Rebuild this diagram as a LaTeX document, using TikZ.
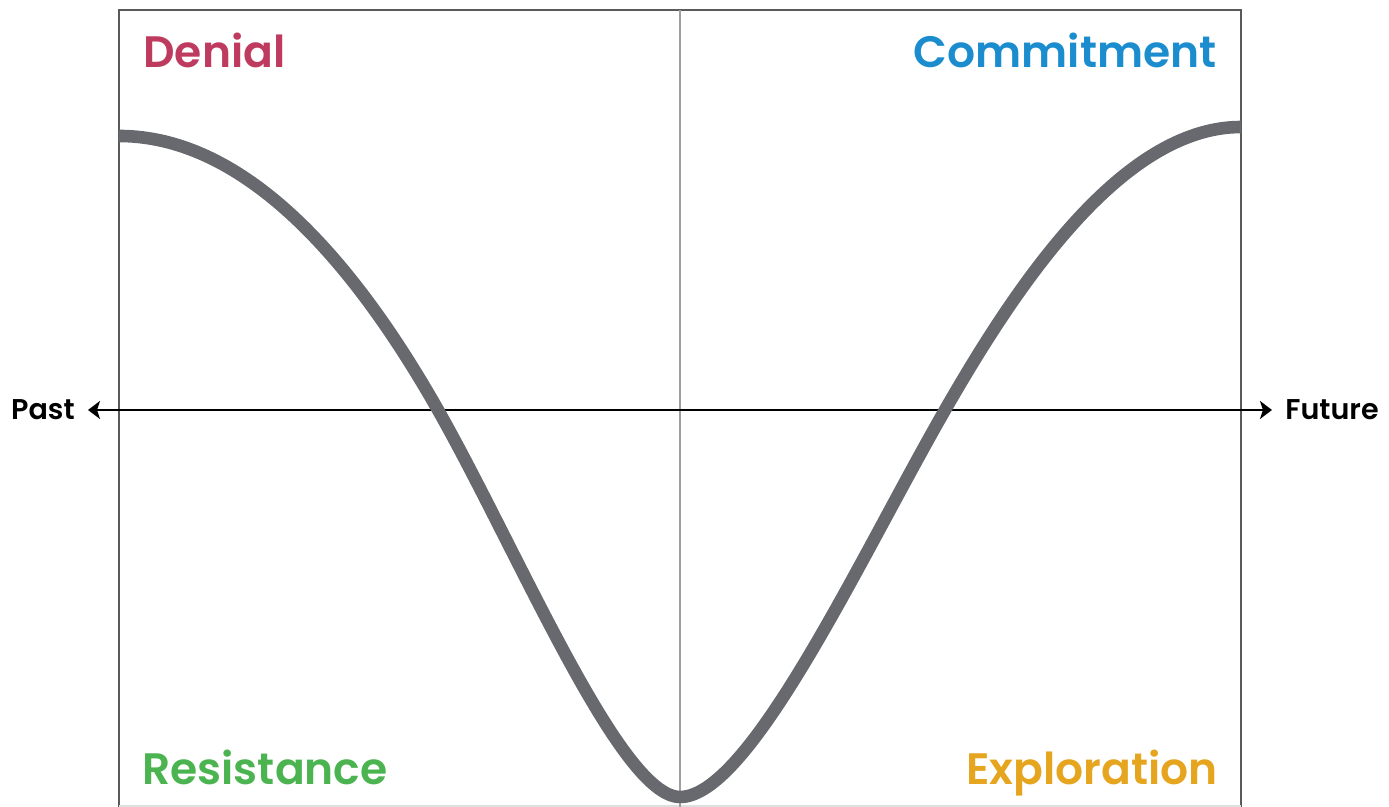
\documentclass[tikz,border=0pt]{standalone}
\usepackage{fontspec}
\setmainfont{Poppins}[BoldFont={* SemiBold}]
\usetikzlibrary{arrows.meta}
\definecolor{denialcol}{RGB}{190,58,94}
\definecolor{commitcol}{RGB}{27,141,206}
\definecolor{resistcol}{RGB}{75,180,80}
\definecolor{explorecol}{RGB}{230,165,30}
\definecolor{curvecol}{RGB}{104,105,110}
\definecolor{framecol}{RGB}{90,90,90}

\begin{document}
\begin{tikzpicture}[x=0.5pt,y=0.5pt]

\tikzset{
  stage label/.style={
    font=\fontsize{22}{24}\selectfont\bfseries,
    inner sep=0pt
  },
  axis label/.style={
    font=\fontsize{14.3}{16}\selectfont\bfseries,
    inner ysep=0pt,
    inner xsep=6.5pt
  },
  time axis/.style={
    black,
    line width=1.1pt,
    {Stealth[length=6pt,width=9pt,inset=1.5pt]}-{Stealth[length=6pt,width=9pt,inset=1.5pt]}
  },
  frame line/.style={draw=framecol, line width=1pt},
  mid line/.style={draw=gray!75, line width=1pt},
  change curve/.style={draw=curvecol, line width=6.3pt}
}

\useasboundingbox (0,0) rectangle (1389,807);

% Outer frame, open at the bottom edge.
\draw[frame line] (119,0) -- (119,797) -- (1241,797) -- (1241,0);
\draw[gray!25, line width=0.6pt] (119,1) -- (1241,1);

% Vertical divider.
\draw[mid line] (680,0) -- (680,797);

% Time axis.
\node[axis label, anchor=east] (past) at (88,397) {Past};
\node[axis label, anchor=west] (future) at (1272,397) {Future};
\draw[time axis] (past) -- (future);

% The change curve.
\draw[change curve]
  (119,671) .. controls (249,671) and (358,538) .. (438,397)
  .. controls (518,256) and (620,10) .. (680,10)
  .. controls (750,10) and (860,249) .. (945,397)
  .. controls (1015,519) and (1121,680) .. (1241,680);

% Quadrant labels.
\node[stage label, text=denialcol, anchor=base west] (denial) at (143,739) {Denial};
\node[stage label, text=commitcol, anchor=base east] (commitment) at (1217,739) {Commitment};
\node[stage label, text=resistcol, anchor=base west] (resistance) at (142,22) {Resistance};
\node[stage label, text=explorecol, anchor=base east] (exploration) at (1218,22) {Exploration};

\end{tikzpicture}
\end{document}
